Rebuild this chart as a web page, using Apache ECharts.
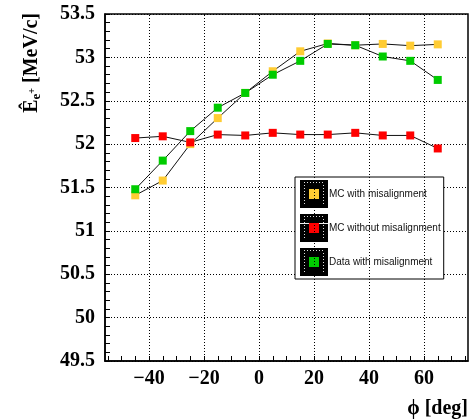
<!DOCTYPE html>
<html>
<head>
<meta charset="utf-8">
<script src="https://cdn.jsdelivr.net/npm/echarts@6.0.0/dist/echarts.min.js"></script>
<style>
html,body{margin:0;padding:0;background:#fff;}
#chart{width:469px;height:419px;}
</style>
</head>
<body>
<div id="chart"></div>
<script>
// ---- data ----
const PHI = [-45, -35, -25, -15, -5, 5, 15, 25, 35, 45, 55, 65];
const MC_WITH_MIS = [51.41, 51.58, 52.00, 52.30, 52.59, 52.84, 53.07, 53.16, 53.14, 53.155, 53.135, 53.15];
const MC_WITHOUT_MIS = [52.07, 52.09, 52.02, 52.11, 52.10, 52.13, 52.11, 52.11, 52.13, 52.10, 52.10, 51.95];
const DATA_WITH_MIS = [51.48, 51.81, 52.15, 52.42, 52.59, 52.80, 52.96, 53.155, 53.14, 53.01, 52.96, 52.74];
const SERIES_NAMES = ['MC with misalignment', 'MC without misalignment', 'Data with misalignment'];
const X_LABELS = [-40, -20, 0, 20, 40, 60];
const X_TICKS = [-55, -50, -45, -40, -35, -30, -25, -20, -15, -10, -5, 0, 5, 10, 15, 20, 25, 30, 35, 40, 45, 50, 55, 60, 65, 70, 75];
const X_GRID = [-40, -20, 0, 20, 40, 60];
const X_MIN = -56, X_MAX = 76;
const Y_MIN = 49.5, Y_MAX = 53.5, Y_STEP = 0.5;

const COLORS = ['#ffcc33', '#ff0000', '#00cc00'];
const SERIF = '"Liberation Serif", "Times New Roman", "DejaVu Serif", serif';
const SANS = '"Liberation Sans", Arial, Helvetica, sans-serif';

function pairs(ys) { return PHI.map((x, i) => [x, ys[i]]); }
const minus = v => String(v).replace('-', '\u2212');

// legend glyph (black box with dotted frame and coloured marker), like the ROOT legend
function legendIcon(color, withLine) {
  const c = document.createElement('canvas');
  c.width = 28; c.height = 28;
  const g = c.getContext('2d');
  g.fillStyle = '#000'; g.fillRect(0, 0, 28, 28);
  g.fillStyle = '#ddd';
  for (let x = 4; x <= 23; x += 3) g.fillRect(x, 2, 1, 1);
  for (let y = 5; y <= 25; y += 3) { g.fillRect(4, y, 1, 1); g.fillRect(23, y, 1, 1); }
  if (withLine) { g.fillStyle = '#eee'; g.fillRect(0, 9, 28, 1); }
  g.fillStyle = color; g.fillRect(9, 9, 10, 10);
  return 'image://' + c.toDataURL();
}

const chart = echarts.init(document.getElementById('chart'), null, {renderer: 'canvas'});

function dataSeries(name, ys, color) {
  return {
    name: name,
    type: 'line',
    data: pairs(ys),
    symbol: 'rect',
    symbolSize: 8,
    z: 3,
    itemStyle: {color: color},
    lineStyle: {color: '#111', width: 1, type: 'solid'},
    emphasis: {disabled: true},
    silent: true
  };
}

chart.setOption({
  animation: false,
  backgroundColor: '#fff',
  grid: {left: 105, right: 1, top: 14, bottom: 58, show: true, borderColor: '#000', borderWidth: 1.5, backgroundColor: 'transparent', containLabel: false, outerBoundsMode: 'none'},
  xAxis: {
    type: 'value', min: X_MIN, max: X_MAX,
    name: '\u03D5 [deg]',
    nameLocation: 'end',
    nameGap: 0,
    nameTextStyle: {fontFamily: SERIF, fontWeight: 'bold', fontSize: 20, color: '#000', align: 'right', verticalAlign: 'top', padding: [38, 0, 0, 0]},
    axisLine: {show: true, onZero: false, lineStyle: {color: '#000', width: 1.5}},
    axisTick: {show: true, inside: true, length: 5, customValues: X_TICKS, lineStyle: {color: '#000', width: 1}},
    axisLabel: {show: true, customValues: X_LABELS, margin: 8, fontFamily: SERIF, fontWeight: 'bold', fontSize: 20, color: '#000', formatter: minus},
    splitLine: {show: false}
  },
  yAxis: {
    type: 'value', min: Y_MIN, max: Y_MAX, interval: Y_STEP,
    axisLine: {show: true, onZero: false, lineStyle: {color: '#000', width: 1.5}},
    axisTick: {show: true, inside: true, length: 5, lineStyle: {color: '#000', width: 1}},
    minorTick: {show: true, splitNumber: 5, length: 5, lineStyle: {color: '#000', width: 1}},
    axisLabel: {margin: 10, fontFamily: SERIF, fontWeight: 'bold', fontSize: 20, color: '#000'},
    splitLine: {show: true, lineStyle: {color: '#000', width: 1, type: [1, 2]}}
  },
  legend: {
    show: true,
    orient: 'vertical',
    left: 295, top: 177,
    padding: [3, 3, 3, 5],
    itemGap: 6,
    itemWidth: 28, itemHeight: 28,
    backgroundColor: '#fff',
    borderColor: '#000', borderWidth: 1,
    textStyle: {fontFamily: SANS, fontSize: 10, color: '#111', padding: [0, 0, 0, -4]},
    selectedMode: false,
    data: SERIES_NAMES.map((n, i) => ({name: n, icon: legendIcon(COLORS[i], i === 1)}))
  },
  graphic: [{
    type: 'text', x: 32, y: 13, rotation: Math.PI / 2, silent: true,
    style: {
      text: '{E|\u00CA}{s|e}{p|+}{E| [MeV/c]}',
      align: 'right', verticalAlign: 'middle', fill: '#000',
      rich: {
        E: {fontFamily: SERIF, fontWeight: 'bold', fontSize: 20, lineHeight: 22, verticalAlign: 'middle', fill: '#000'},
        s: {fontFamily: SERIF, fontWeight: 'bold', fontSize: 13, lineHeight: 10, verticalAlign: 'bottom', fill: '#000'},
        p: {fontFamily: SERIF, fontWeight: 'bold', fontSize: 10, lineHeight: 10, verticalAlign: 'middle', fill: '#000'}
      }
    }
  }],
  series: [
    {
      name: '_grid', type: 'line', data: pairs(MC_WITH_MIS), z: 1, silent: true,
      showSymbol: false, symbol: 'none',
      lineStyle: {width: 0, opacity: 0},
      emphasis: {disabled: true},
      markLine: {
        silent: true, symbol: 'none', animation: false,
        label: {show: false},
        lineStyle: {color: '#000', width: 1, type: [1, 2]},
        emphasis: {disabled: true},
        data: X_GRID.map(v => ({xAxis: v}))
      }
    },
    dataSeries(SERIES_NAMES[0], MC_WITH_MIS, COLORS[0]),
    dataSeries(SERIES_NAMES[1], MC_WITHOUT_MIS, COLORS[1]),
    dataSeries(SERIES_NAMES[2], DATA_WITH_MIS, COLORS[2])
  ]
});
</script>
</body>
</html>
